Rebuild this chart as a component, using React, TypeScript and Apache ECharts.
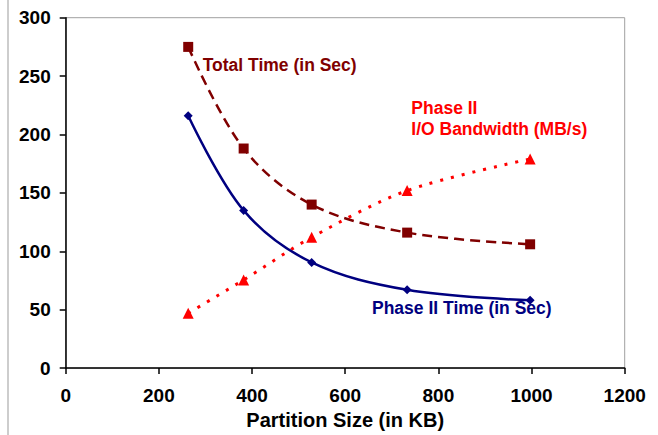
import React, { useEffect, useRef } from "react";
import * as echarts from "echarts";

const partitionSizes = [263, 382, 528, 733, 997];
const totalTime = [275, 188, 140, 116, 106];
const phase2Time = [216, 135, 90.5, 67, 58];
const phase2Bandwidth = [47, 75.5, 112, 152, 179];
const xTicks = [0, 200, 400, 600, 800, 1000, 1200];
const yTicks = [0, 50, 100, 150, 200, 250, 300];

const FONT = "'Liberation Sans', Arial, sans-serif";

export default function App() {
  const ref = useRef<HTMLDivElement>(null);
  useEffect(() => {
    if (!ref.current) return;
    const chart = echarts.init(ref.current, null, { renderer: "svg" });
    const pair = (ys: number[]) => partitionSizes.map((x, i) => [x, ys[i]]);
    chart.setOption({
      animation: false,
      backgroundColor: "#fff",
      textStyle: { fontFamily: FONT },
      grid: {
        left: 65.7,
        right: 33.3,
        top: 17.7,
        bottom: 62.7,
        show: true,
        borderColor: "#a0a0a0",
        borderWidth: 1,
      },
      xAxis: {
        type: "value",
        min: xTicks[0],
        max: xTicks[xTicks.length - 1],
        interval: 200,
        name: "Partition Size (in KB)",
        nameLocation: "middle",
        nameGap: 40,
        nameTextStyle: { fontFamily: FONT, fontWeight: "bold", fontSize: 20, color: "#000" },
        axisLine: { show: true, lineStyle: { color: "#000", width: 1.5 } },
        axisTick: { show: true, length: 6, lineStyle: { color: "#000", width: 1.5 } },
        axisLabel: {
          margin: 18,
          fontFamily: FONT,
          fontWeight: "bold",
          fontSize: 19,
          color: "#000",
          formatter: (v: number) => String(v),
        },
        splitLine: { show: false },
      },
      yAxis: {
        type: "value",
        min: yTicks[0],
        max: yTicks[yTicks.length - 1],
        interval: 50,
        axisLine: { show: true, lineStyle: { color: "#000", width: 1.5 } },
        axisTick: { show: true, length: 6, lineStyle: { color: "#000", width: 1.5 } },
        axisLabel: {
          margin: 15,
          fontFamily: FONT,
          fontWeight: "bold",
          fontSize: 19,
          color: "#000",
          formatter: (v: number) => String(v),
        },
        splitLine: { show: false },
      },
      graphic: [
        {
          type: "line",
          shape: { x1: 8, y1: 0, x2: 8, y2: 435 },
          style: { stroke: "#bdbdbd", lineWidth: 1.5 },
        },
        {
          type: "text",
          x: 202.7,
          y: 65,
          style: {
            text: "Total Time (in Sec)",
            fill: "#800000",
            font: `bold 17.5px ${FONT}`,
            verticalAlign: "middle",
          },
        },
        {
          type: "text",
          x: 411.3,
          y: 97,
          style: {
            text: "Phase II\nI/O Bandwidth (MB/s)",
            fill: "#ff0000",
            font: `bold 17.5px ${FONT}`,
            lineHeight: 21,
            verticalAlign: "top",
          },
        },
        {
          type: "text",
          x: 372,
          y: 308,
          style: {
            text: "Phase II Time (in Sec)",
            fill: "#000080",
            font: `bold 17.5px ${FONT}`,
            verticalAlign: "middle",
          },
        },
      ],
      series: [
        {
          name: "Total Time (in Sec)",
          type: "line",
          data: pair(totalTime),
          smooth: 0.35,
          symbol: "rect",
          symbolSize: 10,
          itemStyle: { color: "#800000" },
          lineStyle: { color: "#800000", width: 2.5, type: [10, 6] },
          z: 3,
        },
        {
          name: "Phase II Time (in Sec)",
          type: "line",
          data: pair(phase2Time),
          smooth: 0.35,
          symbol: "diamond",
          symbolSize: 9,
          itemStyle: { color: "#000080" },
          lineStyle: { color: "#000080", width: 2.5 },
          z: 4,
        },
        {
          name: "Phase II I/O Bandwidth (MB/s)",
          type: "line",
          data: pair(phase2Bandwidth),
          smooth: 0.3,
          symbol: "triangle",
          symbolSize: 11,
          itemStyle: { color: "#ff0000" },
          lineStyle: { color: "#ff0000", width: 3, type: [3, 8] },
          z: 2,
        },
      ],
    });
    return () => chart.dispose();
  }, []);
  return <div ref={ref} style={{ width: 658, height: 435, position: "absolute", left: 0, top: 0 }} />;
}
